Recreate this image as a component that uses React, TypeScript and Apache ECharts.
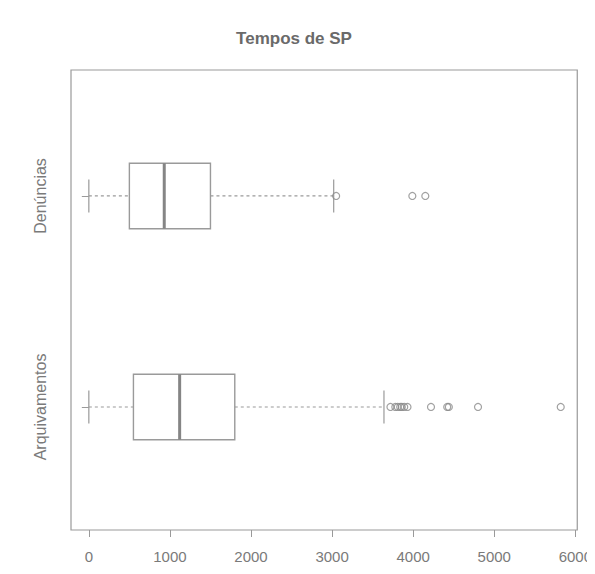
import React, { useEffect, useRef } from "react";
import * as echarts from "echarts";

// ---- data ----
const categories = ["Arquivamentos", "Denúncias"]; // y = 1, 2
// [min whisker, Q1, median, Q3, max whisker]
const boxArquivamentos = [0, 550, 1120, 1800, 3640];
const boxDenuncias = [0, 500, 930, 1500, 3020];
const outliersArquivamentos = [3720, 3780, 3810, 3840, 3860, 3890, 3930, 4220, 4420, 4440, 4800, 5820];
const outliersDenuncias = [3050, 3990, 4150];
const xTicks = [0, 1000, 2000, 3000, 4000, 5000, 6000];

const LINE = "#9a9a9a";
const TEXT = "#7a7a7a";
const FONT = "Liberation Sans, Arial, sans-serif";

export default function App() {
  const ref = useRef<HTMLDivElement>(null);
  useEffect(() => {
    if (!ref.current) return;
    const chart = echarts.init(ref.current, null, { renderer: "svg" });
    const boxes = [
      [1, ...boxArquivamentos],
      [2, ...boxDenuncias],
    ];
    const outlierData: number[][] = [];
    outliersArquivamentos.forEach((v) => outlierData.push([v, 1]));
    outliersDenuncias.forEach((v) => outlierData.push([v, 2]));
    const halfBox = 0.155;
    const halfCap = 0.078;

    chart.setOption({
      animation: false,
      backgroundColor: "#ffffff",
      title: {
        text: "Tempos de SP",
        left: 289,
        top: 25,
        textAlign: "center",
        textStyle: { fontFamily: FONT, fontSize: 17, fontWeight: "bold", color: "#6a6a6a" },
      },
      grid: {
        left: 71,
        right: 12,
        top: 70,
        bottom: 44,
        show: true,
        borderColor: LINE,
        borderWidth: 1.2,
        backgroundColor: "transparent",
      },
      xAxis: {
        type: "value",
        min: -220,
        max: 6024,
        axisLine: { show: false },
        splitLine: { show: false },
        axisTick: { show: true, length: 7, lineStyle: { color: LINE }, customValues: xTicks },
        axisLabel: {
          customValues: xTicks,
          margin: 19,
          color: TEXT,
          fontSize: 15,
          fontFamily: FONT,
          formatter: (v: number) => String(v),
        },
      },
      yAxis: {
        type: "value",
        min: 0.417,
        max: 2.597,
        axisLine: { show: false },
        splitLine: { show: false },
        axisTick: { show: true, length: 7, lineStyle: { color: LINE }, customValues: [1, 2] },
        axisLabel: {
          customValues: [1, 2],
          rotate: 90,
          margin: 23,
          color: TEXT,
          fontSize: 16,
          fontFamily: FONT,
          formatter: (v: number) => categories[Math.round(v) - 1] ?? "",
        },
      },
      series: [
        {
          type: "custom",
          data: boxes,
          encode: { x: [1, 2, 3, 4, 5], y: 0 },
          renderItem: (params: any, api: any) => {
            const y = api.value(0);
            const mn = api.value(1);
            const q1 = api.value(2);
            const md = api.value(3);
            const q3 = api.value(4);
            const mx = api.value(5);
            const pMinC = api.coord([mn, y]);
            const pMaxC = api.coord([mx, y]);
            const pQ1T = api.coord([q1, y + halfBox]);
            const pQ3B = api.coord([q3, y - halfBox]);
            const pQ1C = api.coord([q1, y]);
            const pQ3C = api.coord([q3, y]);
            const pMdT = api.coord([md, y + halfBox]);
            const pMdB = api.coord([md, y - halfBox]);
            const capT = api.coord([mn, y + halfCap]);
            const capB = api.coord([mn, y - halfCap]);
            const capT2 = api.coord([mx, y + halfCap]);
            const capB2 = api.coord([mx, y - halfCap]);
            const dash = { stroke: LINE, lineWidth: 1.2, lineDash: [3, 3] };
            const solid = { stroke: LINE, lineWidth: 1.2 };
            return {
              type: "group",
              children: [
                { type: "line", shape: { x1: pMinC[0], y1: pMinC[1], x2: pQ1C[0], y2: pQ1C[1] }, style: dash },
                { type: "line", shape: { x1: pQ3C[0], y1: pQ3C[1], x2: pMaxC[0], y2: pMaxC[1] }, style: dash },
                { type: "line", shape: { x1: capT[0], y1: capT[1], x2: capB[0], y2: capB[1] }, style: solid },
                { type: "line", shape: { x1: capT2[0], y1: capT2[1], x2: capB2[0], y2: capB2[1] }, style: solid },
                {
                  type: "rect",
                  shape: { x: pQ1T[0], y: pQ1T[1], width: pQ3B[0] - pQ1T[0], height: pQ3B[1] - pQ1T[1] },
                  style: { fill: "none", stroke: LINE, lineWidth: 1.4 },
                },
                {
                  type: "line",
                  shape: { x1: pMdT[0], y1: pMdT[1], x2: pMdB[0], y2: pMdB[1] },
                  style: { stroke: "#858585", lineWidth: 3 },
                },
              ],
            };
          },
        },
        {
          type: "scatter",
          data: outlierData,
          symbol: "circle",
          symbolSize: 7,
          itemStyle: { color: "transparent", borderColor: "#8a8a8a", borderWidth: 1.2 },
        },
      ],
    });
    return () => chart.dispose();
  }, []);
  return <div ref={ref} style={{ width: 595, height: 574, marginLeft: -8, marginTop: -8 }} />;
}
